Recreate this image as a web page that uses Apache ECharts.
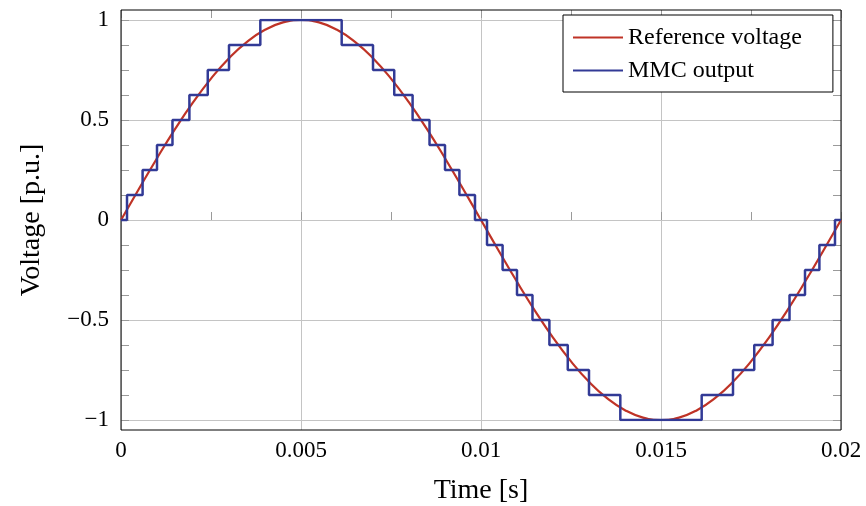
<!DOCTYPE html>
<html>
<head>
<meta charset="utf-8">
<script src="https://cdn.jsdelivr.net/npm/echarts@6/dist/echarts.min.js"></script>
<style>html,body{margin:0;padding:0;background:#fff}#chart{width:866px;height:506px}</style>
</head>
<body>
<div id="chart"></div>
<script>
// Reference sine, time in s
const refTime = [0,0.0005,0.001,0.0015,0.002,0.0025,0.003,0.0035,0.004,0.0045,0.005,0.0055,0.006,0.0065,0.007,0.0075,0.008,0.0085,0.009,0.0095,0.01,0.0105,0.011,0.0115,0.012,0.0125,0.013,0.0135,0.014,0.0145,0.015,0.0155,0.016,0.0165,0.017,0.0175,0.018,0.0185,0.019,0.0195,0.02];
const refVoltage = [0,0.156,0.309,0.454,0.588,0.707,0.809,0.891,0.951,0.988,1,0.988,0.951,0.891,0.809,0.707,0.588,0.454,0.309,0.156,0,-0.156,-0.309,-0.454,-0.588,-0.707,-0.809,-0.891,-0.951,-0.988,-1,-0.988,-0.951,-0.891,-0.809,-0.707,-0.588,-0.454,-0.309,-0.156,0];
// MMC staircase: switching instants and level held after each instant
const stepTime = [0,0.000167,0.0006,0.001,0.00143,0.0019,0.00241,0.003,0.00387,0.00613,0.007,0.00759,0.0081,0.00857,0.009,0.0094,0.009833,0.010167,0.0106,0.011,0.01143,0.0119,0.01241,0.013,0.01387,0.01613,0.017,0.01759,0.0181,0.01857,0.019,0.0194,0.019833,0.02];
const stepLevel = [0,0.125,0.25,0.375,0.5,0.625,0.75,0.875,1,0.875,0.75,0.625,0.5,0.375,0.25,0.125,0,-0.125,-0.25,-0.375,-0.5,-0.625,-0.75,-0.875,-1,-0.875,-0.75,-0.625,-0.5,-0.375,-0.25,-0.125,0,0];
const xTicks = [0,0.005,0.01,0.015,0.02];
const xTickLabels = ['0','0.005','0.01','0.015','0.02'];
const yTicks = [-1,-0.5,0,0.5,1];
const yTickLabels = ['\u22121','\u22120.5','0','0.5','1'];

const FONT = "'Liberation Serif','DejaVu Serif',serif";
const GRIDC = '#c4c4c4';
const TICKC = '#9a9a9a';

function lab(list, labels) {
  return function (v) {
    for (let i = 0; i < list.length; i++) if (Math.abs(list[i] - v) < 1e-9) return labels[i];
    return '';
  };
}

const chart = echarts.init(document.getElementById('chart'), null, {renderer: 'canvas'});
const tickCommon = {show: true, inside: true, length: 8, lineStyle: {color: TICKC, width: 1}};
const minorCommon = {show: true, length: 8, lineStyle: {color: TICKC, width: 1}};

chart.setOption({
  animation: false,
  backgroundColor: '#fff',
  textStyle: {fontFamily: FONT},
  grid: [
    {left: 121, top: 10, width: 720, height: 420, show: true, borderColor: '#000', borderWidth: 1, backgroundColor: 'transparent', z: 5, containLabel: false, outerBoundsMode: 'none'},
    {left: 121, top: 20, width: 720, height: 400, show: false, containLabel: false, outerBoundsMode: 'none'}
  ],
  legend: {
    left: 563, top: 15, orient: 'vertical',
    padding: [9, 31, 8, 10], itemGap: 6,
    itemWidth: 50, itemHeight: 2, icon: 'rect',
    backgroundColor: '#fff', borderColor: '#000', borderWidth: 1,
    textStyle: {fontFamily: FONT, fontSize: 24, color: '#000', lineHeight: 27},
    data: ['Reference voltage', 'MMC output'],
    z: 20
  },
  xAxis: [
    {gridIndex: 0, type: 'value', position: 'bottom', min: 0, max: 0.02, interval: 0.005,
     name: 'Time [s]', nameLocation: 'middle', nameGap: 47,
     nameTextStyle: {fontFamily: FONT, fontSize: 28, color: '#000'},
     axisLine: {show: false},
     axisTick: tickCommon, minorTick: Object.assign({splitNumber: 2}, minorCommon),
     axisLabel: {fontFamily: FONT, fontSize: 23, color: '#000', margin: 9, formatter: lab(xTicks, xTickLabels)},
     splitLine: {show: true, lineStyle: {color: GRIDC, width: 1}}},
    {gridIndex: 0, type: 'value', position: 'top', min: 0, max: 0.02, interval: 0.005,
     axisLine: {show: false}, axisLabel: {show: false},
     axisTick: tickCommon, minorTick: Object.assign({splitNumber: 2}, minorCommon),
     splitLine: {show: false}},
    {gridIndex: 1, type: 'value', min: 0, max: 0.02, show: false}
  ],
  yAxis: [
    {gridIndex: 1, type: 'value', position: 'left', min: -1, max: 1, interval: 0.5,
     name: 'Voltage [p.u.]', nameLocation: 'middle', nameGap: 75,
     nameTextStyle: {fontFamily: FONT, fontSize: 28, color: '#000'},
     axisLine: {show: false},
     axisTick: tickCommon, minorTick: Object.assign({splitNumber: 4}, minorCommon),
     axisLabel: {fontFamily: FONT, fontSize: 23, color: '#000', margin: 12, formatter: lab(yTicks, yTickLabels)},
     splitLine: {show: true, lineStyle: {color: GRIDC, width: 1}}},
    {gridIndex: 1, type: 'value', position: 'right', min: -1, max: 1, interval: 0.5,
     axisLine: {show: false}, axisLabel: {show: false},
     axisTick: tickCommon, minorTick: Object.assign({splitNumber: 4}, minorCommon),
     splitLine: {show: false}},
    {gridIndex: 0, type: 'value', min: -1.05, max: 1.05, show: false}
  ],
  series: [
    {name: 'Reference voltage', type: 'line', xAxisIndex: 2, yAxisIndex: 0,
     data: refTime.map((t, i) => [t, refVoltage[i]]),
     smooth: 0.5, showSymbol: false, symbol: 'none',
     lineStyle: {color: '#bf3326', width: 2.2}, itemStyle: {color: '#bf3326'}, z: 10},
    {name: 'MMC output', type: 'line', xAxisIndex: 2, yAxisIndex: 0,
     data: stepTime.map((t, i) => [t, stepLevel[i]]),
     step: 'end', showSymbol: false, symbol: 'none',
     lineStyle: {color: '#323a96', width: 2.5}, itemStyle: {color: '#323a96'}, z: 11}
  ]
});
</script>
</body>
</html>
